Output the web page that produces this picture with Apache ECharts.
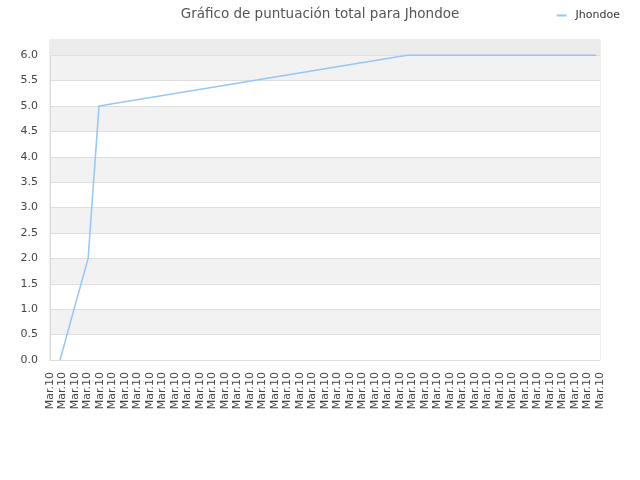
<!DOCTYPE html>
<html><head><meta charset="utf-8">
<script src="https://cdn.jsdelivr.net/npm/echarts@6/dist/echarts.min.js"></script>
<style>html,body{margin:0;padding:0;background:#fff}#c{width:640px;height:480px}</style>
</head><body><div id="c"></div>
<script>
var titleText = 'Gráfico de puntuación total para Jhondoe';
var seriesName = 'Jhondoe';
var tickLabel = 'Mar.10';
var tickCount = 45;
var pointX = [0.8, 3.05, 3.92, 28.56, 43.68];
var pointY = [0, 2, 5, 6, 6];

var data = pointX.map(function (x, i) { return [x, pointY[i]]; });
var chart = echarts.init(document.getElementById('c'));
chart.setOption({
  animation: false,
  title: { text: titleText, left: 'center', top: 2,
    textStyle: { fontFamily: 'DejaVu Sans', fontSize: 13.5, fontWeight: 'normal', color: '#555' } },
  legend: { right: 15, top: 5, itemWidth: 10, itemHeight: 2, itemGap: 4,
    textStyle: { fontFamily: 'DejaVu Sans', fontSize: 11, color: '#333', padding: [0, 0, 0, 4] },
    data: [{ name: seriesName, icon: 'rect' }] },
  grid: { left: 50, right: 40, top: 40, bottom: 120, show: true, borderColor: '#dddddd', borderWidth: 1 },
  xAxis: { type: 'value', min: 0, max: tickCount - 1, interval: 1,
    axisLine: { show: true, lineStyle: { color: '#dddddd' } },
    axisTick: { show: false },
    splitLine: { show: false },
    axisLabel: { rotate: 90, fontFamily: 'DejaVu Sans', fontSize: 11, color: '#444', margin: 12,
      formatter: function () { return tickLabel; } } },
  yAxis: { type: 'value', min: 0, max: 6.3, interval: 0.5,
    axisLine: { show: true, lineStyle: { color: '#dddddd' } },
    axisTick: { show: false },
    splitLine: { show: true, lineStyle: { color: '#dddddd' } },
    splitArea: { show: true, areaStyle: { color: ['#ffffff', '#f2f2f2'] } },
    axisLabel: { fontFamily: 'DejaVu Sans', fontSize: 11, color: '#444', margin: 12,
      formatter: function (v) { return v > 6.01 ? '' : v.toFixed(1); } } },
  series: [{ name: seriesName, type: 'line', data: data, symbol: 'none',
    lineStyle: { color: '#96c6f4', width: 1.5 }, itemStyle: { color: '#96c6f4' },
    markArea: { silent: true, itemStyle: { color: '#ececec' },
      data: [[{ yAxis: 6 }, { yAxis: 6.3 }]] } }]
});
</script></body></html>
